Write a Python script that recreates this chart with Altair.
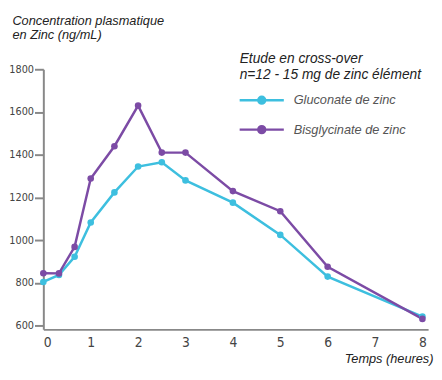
import altair as alt
import pandas as pd

times = [0, 0.33, 0.66, 1, 1.5, 2, 2.5, 3, 4, 5, 6, 8]
gluconate = [805, 838, 923, 1083, 1224, 1345, 1365, 1280, 1176, 1025, 830, 643]
bisglycinate = [846, 845, 969, 1289, 1440, 1630, 1410, 1410, 1230, 1136, 876, 632]
series = ["Gluconate de zinc", "Bisglycinate de zinc"]
colors = ["#3dbfdf", "#7c4ba5"]
x_ticks = [0, 1, 2, 3, 4, 5, 6, 7, 8]
y_ticks = [600, 800, 1000, 1200, 1400, 1600, 1800]

rows = []
for t, g, b in zip(times, gluconate, bisglycinate):
    rows.append({"t": t, "v": g, "s": series[0]})
    rows.append({"t": t, "v": b, "s": series[1]})
df = pd.DataFrame(rows)

font = "DejaVu Sans Condensed, Liberation Sans, sans-serif"
tfont = "Liberation Sans, Arial, sans-serif"

sym_path = "M-9,0L9,0M1.4,0A1.4,1.4,0,1,1,-1.4,0A1.4,1.4,0,1,1,1.4,0"

legend = alt.Legend(
    title=["Etude en cross-over", "n=12 - 15 mg de zinc élément"],
    orient="none",
    legendX=200,
    legendY=-17,
    titleFont=tfont,
    titleFontStyle="italic",
    titleFontWeight="normal",
    titleFontSize=14,
    titleColor="#222222",
    titleLineHeight=16,
    titlePadding=12,
    titleLimit=400,
    labelFont=tfont,
    labelFontStyle="italic",
    labelFontSize=13,
    labelColor="#555555",
    labelOffset=26,
    labelLimit=300,
    symbolType=sym_path,
    symbolSize=25,
    symbolStrokeWidth=2.5,
    symbolOffset=16,
    symbolOpacity=1,
    rowPadding=13,
)

x = alt.X(
    "t:Q",
    scale=alt.Scale(domain=[0, 8.12], nice=False, zero=False),
    axis=alt.Axis(
        values=x_ticks,
        format="d",
        ticks=False,
        grid=False,
        domainColor="#888888",
        domainWidth=2,
        labelFont=font,
        labelFontSize=14,
        labelColor="#444444",
        labelPadding=6,
        title="Temps (heures)",
        titleFont=tfont,
        titleFontStyle="italic",
        titleFontWeight="normal",
        titleFontSize=13,
        titleColor="#222222",
        titleAnchor="end",
        titleAlign="right",
        titleBaseline="alphabetic",
        titleX=397,
        titleY=34,
    ),
)
y = alt.Y(
    "v:Q",
    scale=alt.Scale(domain=[583, 1800], nice=False, zero=False),
    axis=alt.Axis(
        values=y_ticks,
        format="d",
        grid=False,
        domainColor="#888888",
        domainWidth=2,
        tickColor="#888888",
        tickWidth=2,
        tickSize=9,
        labelFont=font,
        labelFontSize=11,
        labelColor="#444444",
        labelPadding=1,
        title=["Concentration plasmatique", "en Zinc (ng/mL)"],
        titleFont=tfont,
        titleFontStyle="italic",
        titleFontWeight="normal",
        titleFontSize=13,
        titleColor="#222222",
        titleAngle=0,
        titleAlign="left",
        titleBaseline="alphabetic",
        titleLineHeight=15,
        titleX=-32,
        titleY=-46,
    ),
)
stroke = alt.Stroke(
    "s:N",
    scale=alt.Scale(domain=series, range=colors),
    sort=series,
    legend=legend,
)
fill = alt.Fill(
    "s:N",
    scale=alt.Scale(domain=series, range=colors),
    sort=series,
    legend=legend,
)

lines = alt.Chart(df).mark_line(strokeWidth=2.5).encode(x=x, y=y, stroke=stroke, order="t:Q")
points = alt.Chart(df).mark_circle(size=45, opacity=1).encode(x=x, y=y, fill=fill)

chart = alt.layer(lines, points).properties(
    width=392,
    height=265,
    autosize="none",
    padding={"left": 36, "top": 59, "right": 6, "bottom": 40},
).configure_view(stroke=None)

chart.save("out.html", embed_options={"renderer": "svg", "actions": False})
